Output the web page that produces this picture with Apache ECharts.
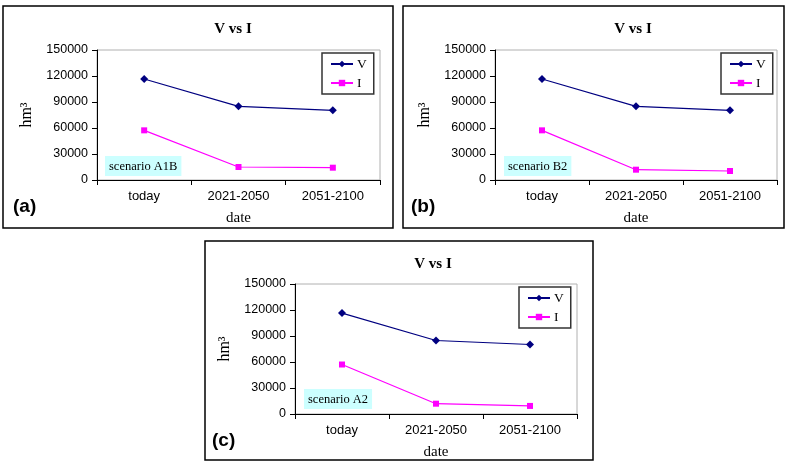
<!DOCTYPE html>
<html><head><meta charset="utf-8">
<script src="https://cdn.jsdelivr.net/npm/echarts@6/dist/echarts.min.js"></script>
<style>html,body{margin:0;padding:0;background:#fff}#c{width:786px;height:462px}</style>
</head><body><div id="c"></div>
<script>
const categories = ['today', '2021-2050', '2051-2100'];
const vA = [116500, 85000, 80400];
const iA = [57300, 15000, 14200];
const vB = [116500, 85000, 80400];
const iB = [57300, 11900, 10400];
const vC = [116400, 84800, 80200];
const iC = [57100, 11900, 9300];
const yMin = 0, yMax = 150000, yStep = 30000;
const titleText = 'V vs I';
const xName = 'date';
const yName = 'hm\u00B3';
const scenarios = ['scenario A1B', 'scenario B2', 'scenario A2'];
const panelTags = ['(a)', '(b)', '(c)'];
const seriesV = [vA, vB, vC];
const seriesI = [iA, iB, iC];

// layout
const panels = [
  {frame:[3,6,390,222], grid:[97,50,283,130], title:[233,22], legend:[322,53], scen:[105,156], tag:[13,197]},
  {frame:[403,6,381,222], grid:[495,50,282,130], title:[633,22], legend:[721,53], scen:[504,156], tag:[411,197]},
  {frame:[205,241,388,219], grid:[295,284,282,130], title:[433,257], legend:[519,287], scen:[304,389], tag:[212,431]}
];

const serif = '"Liberation Serif","Times New Roman",serif';
const sans = '"Liberation Sans",Arial,sans-serif';

const grids = [], xAxes = [], yAxes = [], series = [], titles = [], legends = [], graphics = [];
panels.forEach((p, k) => {
  graphics.push({type:'rect', shape:{x:p.frame[0], y:p.frame[1], width:p.frame[2], height:p.frame[3]},
    style:{fill:null, stroke:'#000', lineWidth:1.5}, z:-1});
  graphics.push({type:'text', left:p.scen[0], top:p.scen[1], z:10,
    style:{text:scenarios[k], font:'12.5px ' + serif, fill:'#000', backgroundColor:'#ccffff', padding:[4,4,3,4]}});
  graphics.push({type:'text', left:p.tag[0], top:p.tag[1],
    style:{text:panelTags[k], font:'bold 19px ' + sans, fill:'#000'}});
  grids.push({left:p.grid[0], top:p.grid[1], width:p.grid[2], height:p.grid[3], show:true,
    borderColor:'#b0b0b0', borderWidth:1, backgroundColor:'transparent'});
  titles.push({text:titleText, left:p.title[0], top:p.title[1], textAlign:'center',
    textStyle:{fontFamily:serif, fontSize:15, fontWeight:'bold', color:'#000'}, padding:0});
  xAxes.push({type:'category', gridIndex:k, data:categories, boundaryGap:true,
    axisLine:{lineStyle:{color:'#000', width:1}},
    axisTick:{show:true, length:5, alignWithLabel:false, lineStyle:{color:'#000'}},
    axisLabel:{fontFamily:sans, fontSize:13, color:'#000', margin:10},
    name:xName, nameLocation:'middle', nameGap:31,
    nameTextStyle:{fontFamily:serif, fontSize:15, color:'#000'}});
  yAxes.push({type:'value', gridIndex:k, min:yMin, max:yMax, interval:yStep,
    axisLine:{show:true, lineStyle:{color:'#000', width:1}},
    axisTick:{show:true, length:5, lineStyle:{color:'#000'}},
    splitLine:{show:false},
    axisLabel:{fontFamily:sans, fontSize:12.5, color:'#000', margin:9, formatter:v => String(v)},
    name:yName, nameLocation:'middle', nameGap:62, nameRotate:90,
    nameTextStyle:{fontFamily:serif, fontSize:16, color:'#000'}});
  series.push({name:'V', type:'line', xAxisIndex:k, yAxisIndex:k, data:seriesV[k],
    symbol:'diamond', symbolSize:8, itemStyle:{color:'#000080'}, lineStyle:{color:'#000080', width:1.2}, animation:false});
  series.push({name:'I', type:'line', xAxisIndex:k, yAxisIndex:k, data:seriesI[k],
    symbol:'rect', symbolSize:6, itemStyle:{color:'#ff00ff'}, lineStyle:{color:'#ff00ff', width:1.2}, animation:false});
  legends.push({data:['V','I'], orient:'vertical', left:p.legend[0], top:p.legend[1],
    itemWidth:22, itemHeight:8, itemGap:5, padding:[4,7,4,8],
    borderColor:'#333', borderWidth:1.5, backgroundColor:'#fff',
    textStyle:{fontFamily:serif, fontSize:13.5, color:'#000', padding:[0,0,0,-1]}, selectedMode:false});
});

const chart = echarts.init(document.getElementById('c'), null, {renderer:'canvas'});
chart.setOption({
  animation:false,
  title:titles, grid:grids, xAxis:xAxes, yAxis:yAxes, series:series, legend:legends,
  graphic:graphics
});
</script></body></html>
